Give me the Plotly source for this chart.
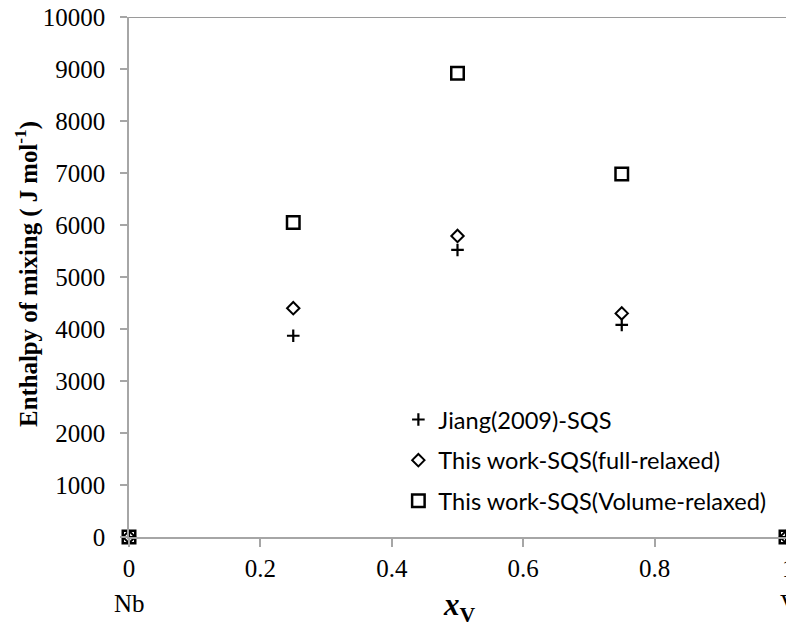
import plotly.graph_objects as go

# Mole fraction of V across the Nb-V binary
x_v = [0, 0.25, 0.5, 0.75, 1]

# Enthalpy of mixing (J/mol)
jiang_2009 = [0, 3870, 5520, 4080, 0]
full_relaxed = [0, 4400, 5790, 4300, 0]
volume_relaxed = [0, 6050, 8920, 6980, 0]

series_names = [
    "Jiang(2009)-SQS",
    "This work-SQS(full-relaxed)",
    "This work-SQS(Volume-relaxed)",
]

x_ticks = [0, 0.2, 0.4, 0.6, 0.8]
x_tick_text = ["0", "0.2", "0.4", "0.6", "0.8"]
y_ticks = list(range(0, 10001, 1000))
y_tick_text = [str(v) for v in y_ticks]

SERIF = "Liberation Serif"
AXIS_GREY = "#a6a6a6"
EDGE_X = 1.0045  # x = 1 sits a few pixels past the right edge of the page

fig = go.Figure()

fig.add_trace(go.Scatter(
    x=x_v, y=jiang_2009, mode="markers", name=series_names[0],
    legendgroup="a", cliponaxis=False,
    marker=dict(symbol="cross-thin", size=9, color="black",
                line=dict(color="black", width=2.2)),
))
fig.add_trace(go.Scatter(
    x=x_v, y=full_relaxed, mode="markers", name=series_names[1],
    legendgroup="b", cliponaxis=False,
    marker=dict(symbol="diamond-open", size=9.5, color="black",
                line=dict(color="black", width=2)),
))
fig.add_trace(go.Scatter(
    x=x_v, y=volume_relaxed, mode="markers", name=series_names[2],
    legendgroup="c", cliponaxis=False,
    marker=dict(symbol="square-open", size=12.5, color="black",
                line=dict(color="black", width=2.5)),
))

fig.update_layout(
    width=786,
    height=626,
    margin=dict(l=129, r=0, t=17, b=89),
    paper_bgcolor="white",
    plot_bgcolor="white",
    showlegend=True,
    legend=dict(
        x=0.41, y=0.268, xanchor="left", yanchor="top",
        font=dict(family="Lato", size=23.6, color="black"),
        bgcolor="rgba(0,0,0,0)",
        traceorder="grouped",
        tracegroupgap=7,
        itemwidth=30,
    ),
    xaxis=dict(
        range=[0, 1],
        tickmode="array", tickvals=x_ticks, ticktext=x_tick_text,
        showgrid=False, zeroline=False,
        showline=True, linecolor=AXIS_GREY, linewidth=1.5,
        ticks="outside", ticklen=8, tickcolor=AXIS_GREY, tickwidth=1.5,
        ticklabelstandoff=0,
        tickfont=dict(family=SERIF, size=25, color="black"),
    ),
    yaxis=dict(
        range=[0, 10000],
        tickmode="array", tickvals=y_ticks, ticktext=y_tick_text,
        showgrid=False, zeroline=False,
        showline=True, linecolor=AXIS_GREY, linewidth=1.5,
        ticks="outside", ticklen=7, tickcolor=AXIS_GREY, tickwidth=1.5,
        ticklabelstandoff=10,
        tickfont=dict(family=SERIF, size=25, color="black"),
    ),
    shapes=[dict(
        type="line", xref="paper", yref="y", x0=0, x1=1, y0=10000, y1=10000,
        line=dict(color="#9a9a9a", width=2),
    )],
    annotations=[
        dict(text="Nb", x=0, y=0, xref="paper", yref="paper", xanchor="center",
             yanchor="middle", yshift=-66, showarrow=False,
             font=dict(family=SERIF, size=25, color="black")),
        dict(text="1", x=EDGE_X, y=0, xref="paper", yref="paper",
             xanchor="center", yanchor="middle", yshift=-31, showarrow=False,
             font=dict(family=SERIF, size=25, color="black")),
        dict(text="V", x=EDGE_X, y=0, xref="paper", yref="paper",
             xanchor="center", yanchor="middle", yshift=-66, showarrow=False,
             font=dict(family=SERIF, size=25, color="black")),
        dict(text="<b><i>x</i></b><sub><b>V</b></sub>", x=0.503,
             y=0, xref="paper", yref="paper", xanchor="center", yanchor="middle",
             yshift=-70, showarrow=False,
             font=dict(family=SERIF, size=31, color="black")),
        dict(text="<b>Enthalpy of mixing ( J mol<sup>-1</sup>)</b>",
             x=0, y=0.506, xref="paper", yref="paper", xanchor="center",
             yanchor="middle", xshift=-102, textangle=-90, showarrow=False,
             font=dict(family=SERIF, size=24.8, color="black")),
    ],
)

fig.write_html("out.html")
